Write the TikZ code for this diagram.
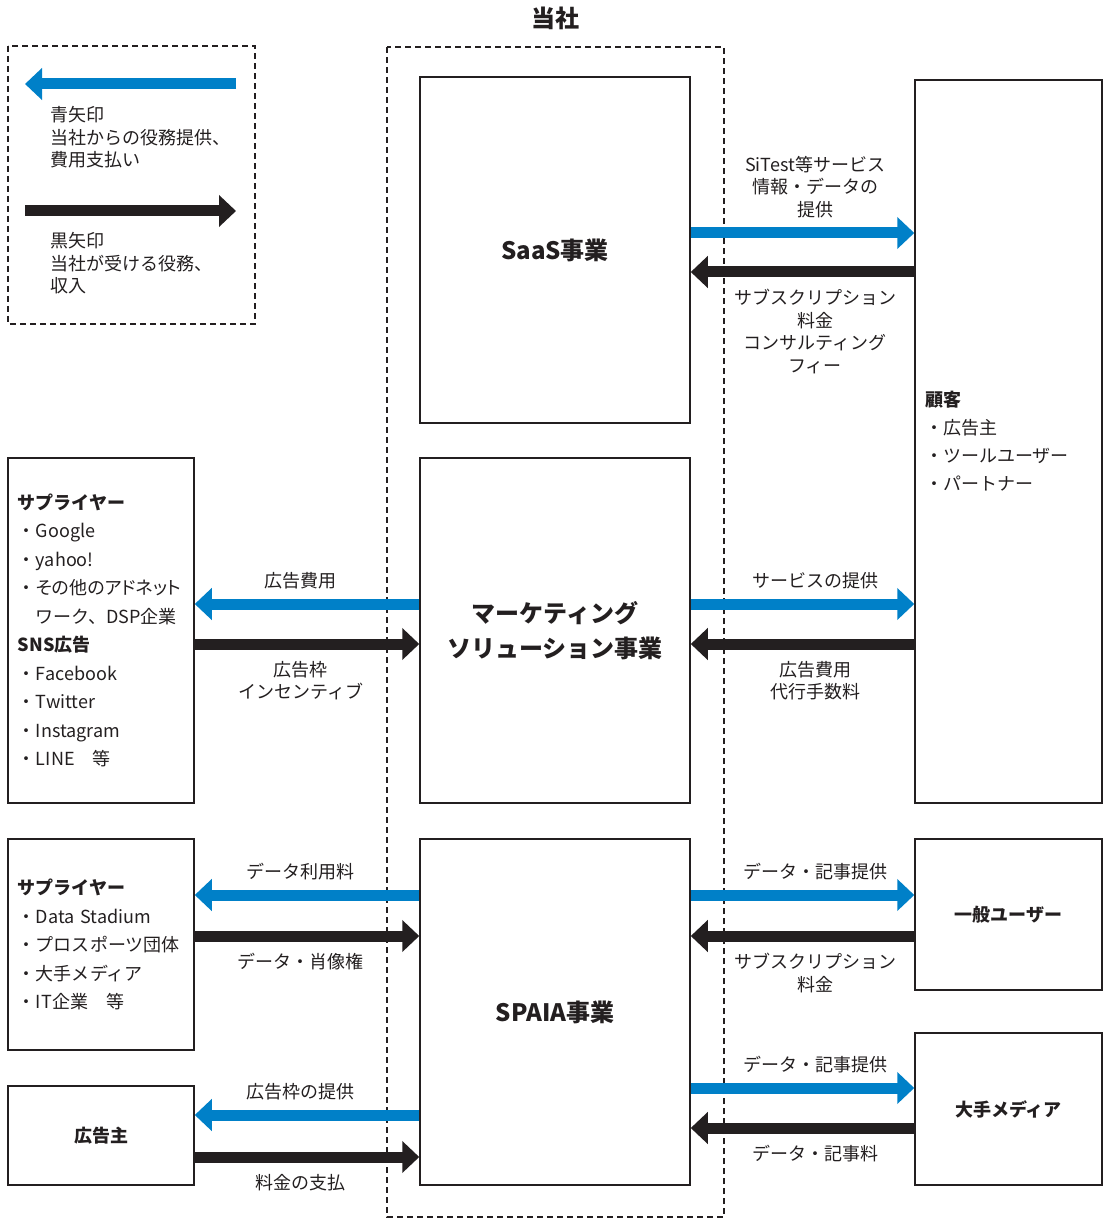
\documentclass[tikz,border=0pt]{standalone}
\usepackage{fontspec}
\setmainfont{Noto Sans CJK JP}
\usetikzlibrary{arrows.meta}
\definecolor{arrblue}{RGB}{0,128,200}
\definecolor{ink}{RGB}{35,31,32}

\begin{document}
\begin{tikzpicture}[
x=0.5pt, y=-0.5pt,
every node/.style = {text=ink},
box/.style = {draw=ink, line width=0.75pt, inner sep=0pt},
bigbox/.style = {box, minimum width=135pt, minimum height=173pt, align=center, font=\fontsize{12}{17.5}\selectfont\bfseries},
listbox/.style = {box, inner xsep=5pt, text width=83.5pt, align=left, font=\fontsize{9}{14.25}\selectfont},
namebox/.style = {box, minimum width=93.5pt, font=\fontsize{9}{11}\selectfont\bfseries},
dashbox/.style = {draw=ink, line width=0.75pt, dash pattern=on 3pt off 2pt},
bluearr/.style = {draw=arrblue, line width=5.5pt, -{Triangle[length=8.5pt, width=15.5pt]}},
blackarr/.style = {draw=ink, line width=5.5pt, -{Triangle[length=8.5pt, width=15.5pt]}},
toplab/.style = {above=4.8pt, inner sep=0pt, align=center, font=\fontsize{9}{11.25}\selectfont},
botlab/.style = {below=5.8pt, inner sep=0pt, align=center, font=\fontsize{9}{11.25}\selectfont},
legtext/.style = {anchor=north west, inner sep=0pt, align=left, font=\fontsize{9}{11.25}\selectfont}
                        ]
\useasboundingbox (0,0) rectangle (1105,1218);

% legend
\draw[dashbox] (8,46) rectangle (255,324);
\coordinate (lb1) at (236,84);
\coordinate (lb2) at (25,84);
\coordinate (lk1) at (25,211);
\coordinate (lk2) at (236,211);
\draw[bluearr] (lb1) -- (lb2);
\node[legtext] (legblue) at (50,106) {青矢印\\当社からの役務提供、\\費用支払い};
\draw[blackarr] (lk1) -- (lk2);
\node[legtext] (legblack) at (50,232) {黒矢印\\当社が受ける役務、\\収入};

% company
\node[font=\fontsize{12}{14}\selectfont\bfseries] (title) at (555,18) {当社};
\draw[dashbox] (387,47) rectangle (724,1217);
\node[bigbox] (saas) at (555,250) {SaaS事業};
\node[bigbox, minimum height=172.5pt] (mkt) at (555,630.5) {マーケティング\\ソリューション事業};
\node[bigbox] (spaia) at (555,1012) {SPAIA事業};

% outside parties
\node[listbox, minimum height=361.5pt, font=\fontsize{9}{14}\selectfont] (cust) at (1008.5,441.5)
    {\textbf{顧客}\\・広告主\\・ツールユーザー\\・パートナー};
\node[listbox, text width=83pt, minimum height=172.5pt] (sup1) at (101,630.5)
    {\textbf{サプライヤー}\\・Google\\・yahoo!\\・{\addfontfeature{RawFeature=+palt}その他のアドネット}\\　ワーク、DSP企業\\\textbf{SNS広告}\\・Facebook\\・Twitter\\・Instagram\\・LINE　等};
\node[listbox, text width=83pt, minimum height=105.5pt] (sup2) at (101,944.5)
    {\textbf{サプライヤー}\\・Data Stadium\\・プロスポーツ団体\\・大手メディア\\・IT企業　等};
\node[namebox, minimum width=93pt, minimum height=49.5pt] (adv) at (101,1135.5) {広告主};
\node[namebox, minimum height=75.5pt] (user) at (1008.5,914.5) {一般ユーザー};
\node[namebox, minimum height=76pt] (media) at (1008.5,1109) {大手メディア};

% rows of arrows
\coordinate (y1) at (0,233);
\coordinate (y2) at (0,272);
\coordinate (y3) at (0,604);
\coordinate (y4) at (0,644);
\coordinate (y5) at (0,895);
\coordinate (y6) at (0,936);
\coordinate (y7) at (0,1115);
\coordinate (y8) at (0,1157);
\coordinate (y9) at (0,1088);
\coordinate (y10) at (0,1128);

% saas
\draw[bluearr] (saas.east |- y1) -- (cust.west |- y1)
    node[toplab, pos=0.556] {SiTest等サービス\\情報・データの\\提供};
\draw[blackarr] (cust.west |- y2) -- (saas.east |- y2)
    node[botlab, pos=0.444] {サブスクリプション\\料金\\コンサルティング\\フィー};

% marketing
\draw[bluearr] (mkt.east |- y3) -- (cust.west |- y3)
    node[toplab, pos=0.556] {サービスの提供};
\draw[blackarr] (cust.west |- y4) -- (mkt.east |- y4)
    node[botlab, pos=0.444] {広告費用\\代行手数料};
\draw[bluearr] (mkt.west |- y3) -- (sup1.east |- y3)
    node[toplab, pos=0.527] {広告費用};
\draw[blackarr] (sup1.east |- y4) -- (mkt.west |- y4)
    node[botlab, pos=0.473] {広告枠\\インセンティブ};

% spaia
\draw[bluearr] (spaia.west |- y5) -- (sup2.east |- y5)
    node[toplab, pos=0.527] {データ利用料};
\draw[blackarr] (sup2.east |- y6) -- (spaia.west |- y6)
    node[botlab, pos=0.473] {データ・肖像権};
\draw[bluearr] (spaia.west |- y7) -- (adv.east |- y7)
    node[toplab, pos=0.527] {広告枠の提供};
\draw[blackarr] (adv.east |- y8) -- (spaia.west |- y8)
    node[botlab, pos=0.473] {料金の支払};
\draw[bluearr] (spaia.east |- y5) -- (user.west |- y5)
    node[toplab, pos=0.556] {データ・記事提供};
\draw[blackarr] (user.west |- y6) -- (spaia.east |- y6)
    node[botlab, pos=0.444] {サブスクリプション\\料金};
\draw[bluearr] (spaia.east |- y9) -- (media.west |- y9)
    node[toplab, pos=0.556] {データ・記事提供};
\draw[blackarr] (media.west |- y10) -- (spaia.east |- y10)
    node[botlab, pos=0.444] {データ・記事料};

\end{tikzpicture}
\end{document}
